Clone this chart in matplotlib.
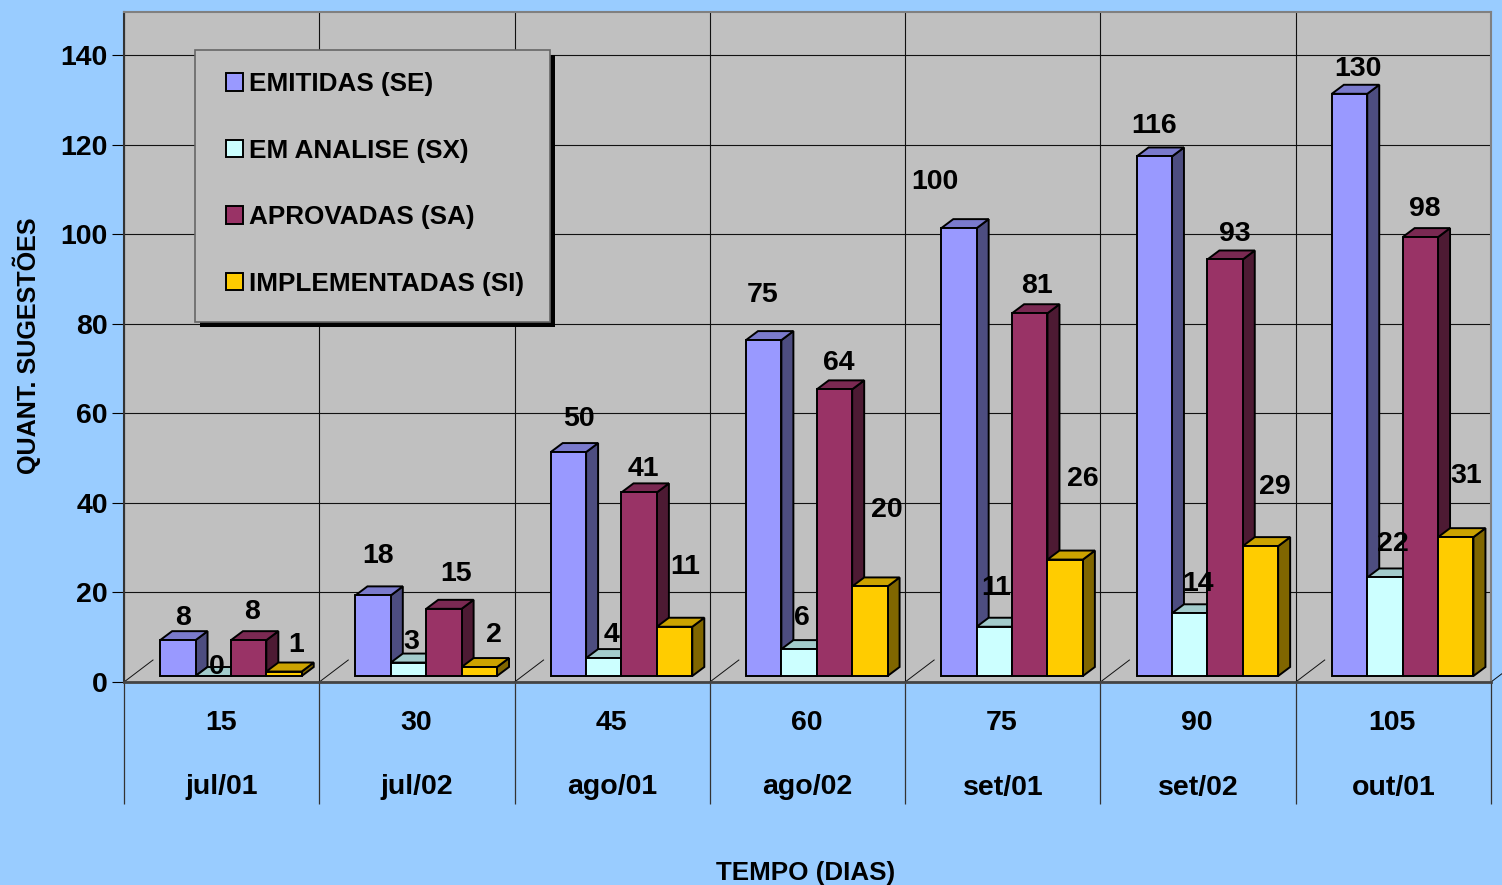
import matplotlib
matplotlib.use('Agg')
import matplotlib.pyplot as plt
from matplotlib.patches import Polygon, Patch, Rectangle
from matplotlib.transforms import Bbox, IdentityTransform

plt.rcParams['font.family'] = ['Liberation Sans', 'DejaVu Sans']
plt.rcParams['font.weight'] = 'bold'

dias = ['15', '30', '45', '60', '75', '90', '105']
meses = ['jul/01', 'jul/02', 'ago/01', 'ago/02', 'set/01', 'set/02', 'out/01']

emitidas = [8, 18, 50, 75, 100, 116, 130]
em_analise = [0, 3, 4, 6, 11, 14, 22]
aprovadas = [8, 15, 41, 64, 81, 93, 98]
implementadas = [1, 2, 11, 20, 26, 29, 31]

series = [emitidas, em_analise, aprovadas, implementadas]
nomes = ['EMITIDAS (SE)', 'EM ANALISE (SX)', 'APROVADAS (SA)', 'IMPLEMENTADAS (SI)']

# frente, lado, topo
cores = [('#9999FF', '#4D4D80', '#7A7ACC'),
         ('#CCFFFF', '#668080', '#A3CCCC'),
         ('#993366', '#4D1A33', '#7A2952'),
         ('#FFCC00', '#806600', '#CCA300')]

# deslocamento dos rotulos em pixels (a partir do topo da barra)
desloc = [[(4, 24), (4, 41), (10, 35), (-2, 47), (-25, 48), (-1, 32), (7, 26)],
          [(3, 10), (2, 22), (7, 25), (2, 33), (1, 40), (7, 31), (7, 35)],
          [(2, 30), (11, 36), (3, 25), (3, 28), (6, 29), (9, 27), (3, 30)],
          [(11, 28), (14, 34), (10, 61), (16, 78), (17, 82), (13, 61), (9, 63)]]

W, H = 1502, 885
fundo = '#99CCFF'
parede = '#C0C0C0'

fig = plt.figure(figsize=(W / 100, H / 100), dpi=100, facecolor=fundo)
ax = fig.add_axes([124 / W, (H - 682) / H, 1367 / W, 670 / H], facecolor=parede)

px_x = 1367 / 7           # pixels por categoria
px_y = 627 / 140          # pixels por sugestao
ax.set_xlim(0, 7)
ax.set_ylim(0, 670 / px_y)

ax.set_yticks(range(0, 141, 20))
ax.set_xticks(range(8))
ax.set_xticklabels([])
ax.tick_params(axis='y', length=8.6, width=0.8, pad=3, labelsize=20.5)
ax.tick_params(axis='x', length=88, width=0.9, color='#333333')
ax.grid(True, color='#111111', linewidth=0.8)
ax.set_axisbelow(True)
for s in ax.spines.values():
    s.set_color('#808080')
    s.set_linewidth(1.5)
ax.spines['left'].set_color('#333333')
ax.spines['bottom'].set_color('#444444')
ax.spines['bottom'].set_linewidth(2)

# linhas do piso
for i in range(8):
    ax.plot([i, i + 29 / px_x], [0, 22 / px_y], color='#111111', lw=0.7,
            clip_on=(i < 7), zorder=1.5)

base = 6 / px_y
larg = 35.4 / px_x
dx = 12 / px_x
dy = 9 / px_y
inicio = 0.185


def barra(x, v, cor):
    y0, y1 = base, base + v
    frente = [(x, y0), (x + larg, y0), (x + larg, y1), (x, y1)]
    lado = [(x + larg, y0), (x + larg + dx, y0 + dy), (x + larg + dx, y1 + dy), (x + larg, y1)]
    topo = [(x, y1), (x + larg, y1), (x + larg + dx, y1 + dy), (x + dx, y1 + dy)]
    for pts, c in [(lado, cor[1]), (topo, cor[2]), (frente, cor[0])]:
        ax.add_patch(Polygon(pts, closed=True, facecolor=c, edgecolor='black',
                             linewidth=1.4, joinstyle='miter', zorder=3))


for c in range(len(dias)):
    for k, valores in enumerate(series):
        barra(c + inicio + k * larg, valores[c], cores[k])

for k, valores in enumerate(series):
    for c, v in enumerate(valores):
        ox, oy = desloc[k][c]
        ax.annotate(str(v), (c + inicio + (k + 0.5) * larg, base + v),
                    xytext=(ox + 1, oy - 1.5), textcoords='offset pixels',
                    ha='center', va='center', fontsize=20.5, zorder=5)

for c in range(len(dias)):
    ax.annotate(dias[c], (c + 0.5, 0), xytext=(-1, -41.5),
                textcoords='offset pixels', ha='center', va='center',
                fontsize=20.5, annotation_clip=False)
    ax.annotate(meses[c], (c + 0.5, 0), xytext=(0, -105.5),
                textcoords='offset pixels', ha='center', va='center',
                fontsize=20.5, annotation_clip=False)

ax.set_xlabel('TEMPO (DIAS)', fontsize=18.7, fontweight='bold')
ax.set_ylabel('QUANT. SUGESTÕES', fontsize=18.1, fontweight='bold')
ax.xaxis.set_label_coords((806 - 124) / 1367, (682 - 873) / 670)
ax.yaxis.set_label_coords((27 - 124) / 1367, (682 - 346) / 670)
ax.xaxis.label.set_verticalalignment('center')
ax.yaxis.label.set_verticalalignment('center')

# caixa da legenda com sombra
ident = IdentityTransform()
ax.add_patch(Rectangle((199.5, H - 326.5), 355.5, 272, transform=ident, facecolor='black',
                       edgecolor='none', clip_on=False, zorder=5.5))
ax.add_patch(Rectangle((195, H - 322), 355, 272, transform=ident, facecolor=parede,
                       edgecolor='#666666', linewidth=1.2, clip_on=False, zorder=5.6))

handles = [Patch(facecolor=cores[k][0], edgecolor='black', linewidth=1.4) for k in range(4)]
leg = ax.legend(handles, nomes, loc='upper left',
                bbox_to_anchor=Bbox.from_extents(226, H - 72, 226, H - 72),
                bbox_transform=ident, borderaxespad=0,
                fontsize=18.8, handlelength=0.65, handleheight=0.65, handletextpad=0.23,
                labelspacing=1.63, borderpad=0, frameon=False)
leg.set_zorder(6)

fig.savefig('out.png', dpi=100, facecolor=fundo)
